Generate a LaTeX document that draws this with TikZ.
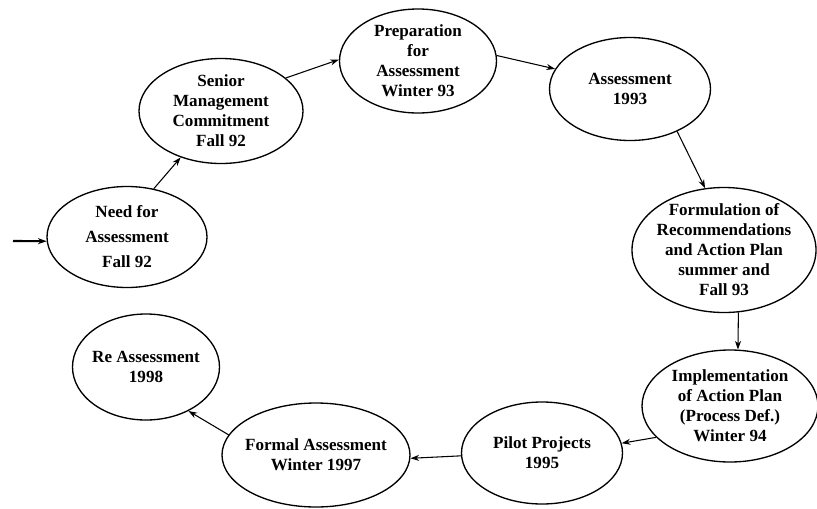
\documentclass[tikz,border=0pt]{standalone}
\usepackage{fontspec}
\setmainfont{Liberation Serif}
\usepackage{tikz}
\usetikzlibrary{shapes.geometric, arrows.meta, positioning}

\begin{document}
\begin{tikzpicture}[
    x=0.75pt, y=-0.75pt,
    phase/.style={ellipse, draw=black, line width=1pt, inner sep=-12pt,
                  align=center, font=\bfseries\fontsize{12.8}{15}\selectfont},
    arr/.style={-{Stealth[length=6.5pt, width=4.5pt]}, line width=0.8pt},
    entry/.style={-{Stealth[length=6.5pt, width=4.5pt]}, line width=1.6pt},
]
\useasboundingbox (0,0) rectangle (817,508);

%% Upper arc of the cycle
\node[phase, minimum width=120pt, minimum height=75.75pt] (need) at (127,237)
    {Need for\\[3.75pt]Assessment\\[3.75pt]Fall 92};
\node[phase, minimum width=123pt, minimum height=78.75pt] (senior) at (221,111)
    {Senior\\Management\\Commitment\\Fall 92};
\node[phase, minimum width=117.75pt, minimum height=78pt] (prep) at (418,61)
    {Preparation\\for\\Assessment\\Winter 93};
\node[phase, minimum width=120.75pt, minimum height=77.25pt] (assess) at (630,89)
    {Assessment\\1993};

%% Right side
\node[phase, minimum width=138pt, minimum height=93.75pt] (form) at (724,250)
    {Formulation of\\Recommendations\\and Action Plan\\summer and\\Fall 93};
\node[phase, minimum width=132pt, minimum height=84pt] (impl) at (730,406)
    {Implementation\\of Action Plan\\(Process Def.)\\Winter 94};

%% Lower arc
\node[phase, minimum width=120.75pt, minimum height=76.5pt] (pilot) at (542,453)
    {Pilot Projects\\1995};
\node[phase, minimum width=141pt, minimum height=78pt] (formal) at (316,455)
    {Formal Assessment\\Winter 1997};
\node[phase, minimum width=110.25pt, minimum height=79.5pt] (reass) at (146,367)
    {Re Assessment\\1998};

\coordinate (start) at (13,241);

%% Arrows
\draw[entry] (start) -- (need.183);
\draw[arr] (need.61)    -- (senior.229);
\draw[arr] (senior.27)  -- (prep.179);
\draw[arr] (prep.4)     -- (assess.165);
\draw[arr] (assess.318) -- (form.107);
\draw[arr] (form.283)   -- (impl.82);
\draw[arr] (impl.203)   -- (pilot.7);
\draw[arr] (pilot.182)  -- (formal.358);
\draw[arr] (formal.167) -- (reass.314);
\end{tikzpicture}
\end{document}
